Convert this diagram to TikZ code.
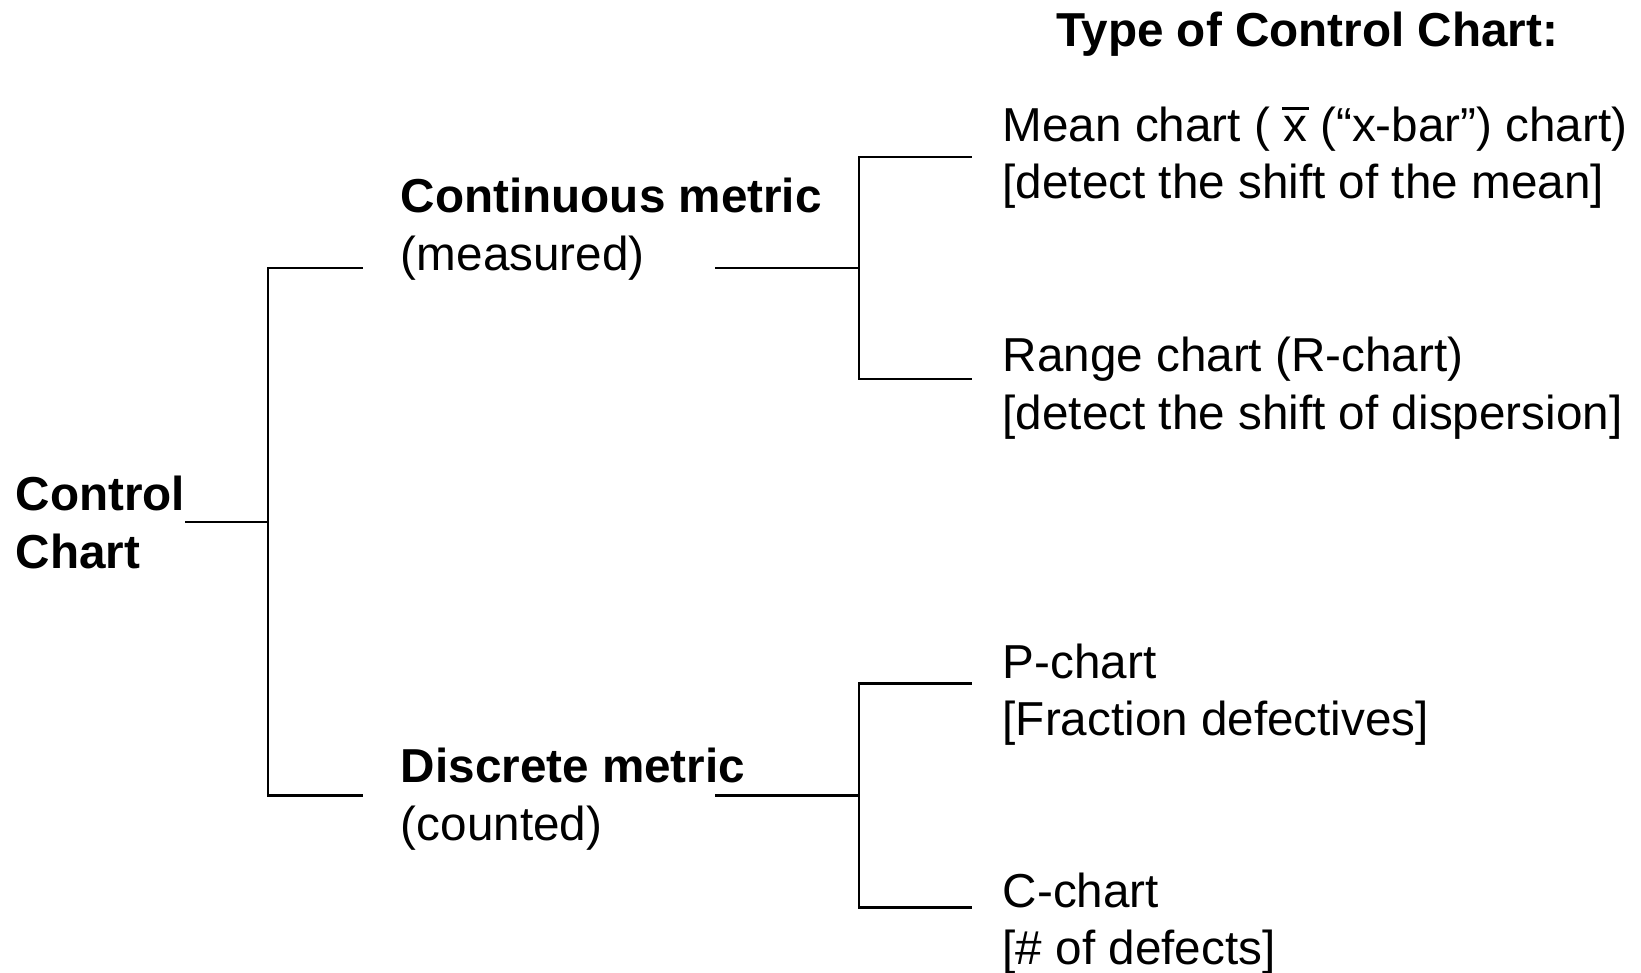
\documentclass[tikz,border=0pt]{standalone}
\usepackage{fontspec}
\setmainfont{Liberation Sans}
\usetikzlibrary{positioning,calc}
\newcommand{\barx}{\mbox{\rlap{\hspace{-0.03em}\raisebox{0.66em}{\rule{0.56em}{0.055em}}}x}}
\tikzset{
    every picture/.style={line width=0.65pt},
    label/.style={anchor=base west,inner sep=0pt,align=left,
        font=\fontsize{12.95}{15.65}\selectfont},
    boldlabel/.style={label,font=\fontsize{12.95}{15.65}\selectfont\bfseries},
    branch/.style={draw,line cap=rect}
}

\begin{document}
\begin{tikzpicture}[x=0.1mm,y=-0.1mm]
    \useasboundingbox (0,0) rectangle (1568,929);
    % texts (base = last line)
    \node[boldlabel] (type) at (1008,44) {Type of Control Chart:};
    \node[boldlabel] (ctrl) at (14,543) {Control\\Chart};
    \node[label] (cont) at (382,258) {\textbf{Continuous metric}\\(measured)};
    \node[label] (disc) at (382,803) {\textbf{Discrete metric}\\(counted)};
    \node[label] (mean) at (957,190) {Mean chart ( \barx{} (“x-bar”) chart)\\{}[detect the shift of the mean]};
    \node[label] (range) at (957,410) {Range chart (R-chart)\\{}[detect the shift of dispersion]};
    \node[label] (pchart) at (957,703) {P-chart\\{}[Fraction defectives]};
    \node[label] (cchart) at (957,922) {C-chart\\{}[\# of defects]};
    % junctions
    \coordinate (ctrl-out) at (178,499);
    \coordinate (trunk) at (256,499);
    \coordinate (t-top) at (256,256);
    \coordinate (t-bot) at (256,760);
    \coordinate (cont-in) at (346,256);
    \coordinate (disc-in) at (346,760);
    \foreach \n/\y in {cont/256,disc/760}{
        \coordinate (\n-out) at (684,\y);
        \coordinate (\n-j) at (821,\y);
    }
    \foreach \n/\y in {mean/150,range/362,pchart/653,cchart/867}{
        \coordinate (\n-j) at (821,\y);
        \coordinate (\n-in) at (928,\y);
    }
    % connectors
    \draw[branch] (ctrl-out) -- (trunk);
    \draw[branch] (cont-in) -- (t-top) -- (t-bot) -- (disc-in);
    \draw[branch] (cont-out) -- (cont-j);
    \draw[branch] (disc-out) -- (disc-j);
    \draw[branch] (mean-in) -- (mean-j) -- (range-j) -- (range-in);
    \draw[branch] (pchart-in) -- (pchart-j) -- (cchart-j) -- (cchart-in);
\end{tikzpicture}
\end{document}
